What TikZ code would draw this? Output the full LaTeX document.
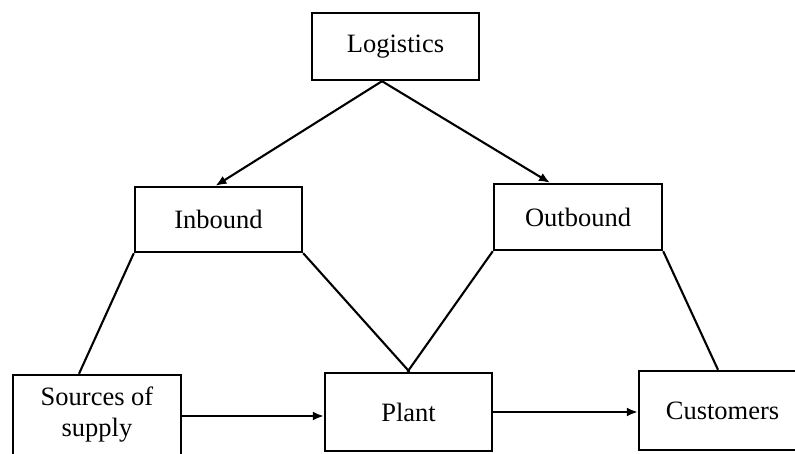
\documentclass[tikz,border=0pt]{standalone}
\usepackage{fontspec}
\setmainfont{Liberation Serif}
\usetikzlibrary{arrows.meta}
\begin{document}
\begin{tikzpicture}[x=1pt,y=-1pt,
  box/.style={draw,line width=2.4pt,inner sep=0pt,minimum width=167pt,align=center,
    font=\fontsize{26.5}{31}\selectfont},
  link/.style={line width=2.1pt},
  arr/.style={line width=2.1pt,-{Latex[length=11pt,width=9pt]}}]
\useasboundingbox (0,0) rectangle (795,454);
\clip (0,0) rectangle (795,454);
\fill[white] (0,0) rectangle (795,454);
\node[box,minimum height=67pt] (log) at (395.5,46.5) {Logistics};
\node[box,minimum height=65pt] (inb) at (218.5,219.5) {Inbound};
\node[box,minimum height=66pt,minimum width=168pt] (outb) at (578,217) {Outbound};
\node[box,minimum height=80pt,minimum width=168pt] (src) at (97,415) {Sources of\\supply};
\node[box,minimum height=78pt] (plant) at (408.5,412) {Plant};
\node[box,minimum height=79pt] (cust) at (722.5,410.5) {Customers};
\coordinate (apex) at ([xshift=-13.5pt]log.south);
\draw[arr] (apex) -- ([xshift=-3pt]inb.north);
\draw[arr] (apex) -- ([xshift=-28pt]outb.north);
\draw[link] (inb.south west) -- ([xshift=-18pt]src.north);
\draw[link] (inb.south east) -- ([xshift=1pt]plant.north);
\draw[link] (outb.south west) -- ([xshift=-1pt]plant.north);
\draw[link] (outb.south east) -- ([xshift=-4.5pt]cust.north);
\draw[arr] ([yshift=-1pt]src.east) -- ([yshift=-1pt]src.east -| plant.west);
\draw[arr] (plant.east) -- (plant.east -| cust.west);
\end{tikzpicture}
\end{document}
